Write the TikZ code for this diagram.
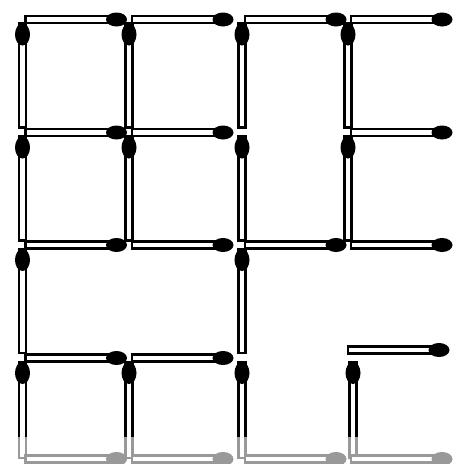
\documentclass[tikz,border=0pt]{standalone}
\usetikzlibrary{calc}
\definecolor{matchInk}{gray}{0.00}
\definecolor{matchWood}{gray}{1.00}

\begin{document}
\begin{tikzpicture}[x=1pt, y=-1pt,
      stick/.style={draw=matchInk, line width=2.3pt, fill=matchWood},
      head/.style={fill=matchInk},
      pics/hmatch/.style={code={
        \path[stick] (3,-3.4) rectangle (100,3.4);
        \path[head]  (94,0) ellipse (10.5 and 7);}},
      pics/vmatch/.style={code={
        \path[stick] (-3.4,4) rectangle (3.4,#1);
        \path[head]  (0,15) ellipse (7.5 and 11);}},
      fade/.style={fill=white, opacity=0.6}]
    \useasboundingbox (0,0) rectangle (454,464);
    % corners of the grid
    \foreach \c/\x in {0/22.5, 1/129, 2/242, 3/348}
      \foreach \r/\y in {0/19.5, 1/132.5, 2/245, 3/358, 4/459}
        \coordinate (g\r\c) at (\x,\y);
    \coordinate (lowH) at ($(g33)+(-3,-8)$);
    \coordinate (lowV) at ($(g33)+(5,0)$);
    % upright matches
    \foreach \p in {00,01,02,03, 10,11,12,13, 20,22}
      \pic at (g\p) {vmatch=108};
    \foreach \p in {g30,g31,g32,lowV}
      \pic at (\p) {vmatch=100};
    % lying matches
    \foreach \p in {g00,g01,g02,g03, g10,g11,g13, g20,g21,g22,g23,
                    g30,g31,lowH, g40,g41,g42,g43}
      \pic at (\p) {hmatch};
    \fill[fade] (0,437) rectangle (454,464);
\end{tikzpicture}
\end{document}
